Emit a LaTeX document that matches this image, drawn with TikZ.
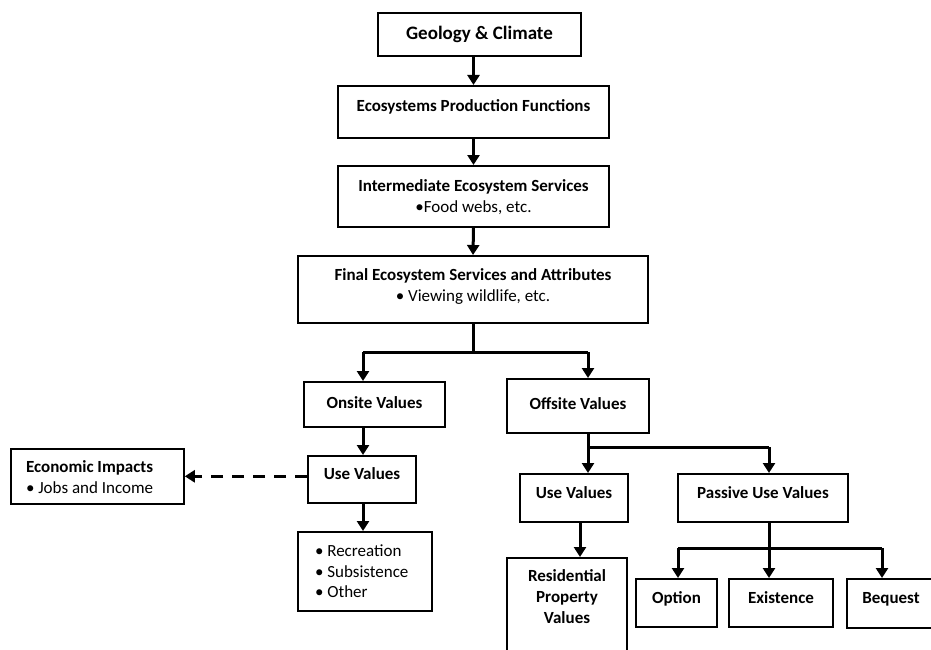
\documentclass[tikz,border=0pt]{standalone}
\usepackage{fontspec}
\setmainfont{Carlito}
\usetikzlibrary{arrows.meta}

\begin{document}
\begin{tikzpicture}[x=1pt, y=-1pt,
    box/.style={rectangle, draw, line width=1.6pt, inner sep=0pt, align=center, font=\fontsize{17}{21}\selectfont\bfseries},
    link/.style={line width=3pt},
    flow/.style={line width=3pt, -{Triangle[width=12pt, length=10pt]}}]

    \clip (0,0) rectangle (931,650);

    % Top chain of boxes
    \node (geo) [box, font=\fontsize{19}{22}\selectfont\bfseries, minimum width=203pt, minimum height=43pt, anchor=north] at (479.5,12) {Geology \& Climate};
    \node (eco) [box, minimum width=271pt, text height=26pt, text depth=26pt, anchor=north] at (473.5,85) {Ecosystems Production Functions};
    \node (inter) [box, minimum width=271pt, text height=47pt, text depth=14pt, anchor=north] at (473.5,165) {Intermediate Ecosystem Services\\{\mdseries •Food webs, etc.}};
    \node (final) [box, minimum width=350pt, text height=46pt, text depth=21pt, anchor=north] at (473,255) {Final Ecosystem Services and Attributes\\{\mdseries • Viewing wildlife, etc.}};
    \draw[flow] (eco.north |- geo.south) -- (eco.north);
    \draw[flow] (eco.south) -- (inter.north);
    \draw[flow] (inter.south) -- (final.north);

    % Onsite side
    \node (onsite) [box, minimum width=141pt, text height=27pt, text depth=18pt, anchor=north] at (374.5,381) {Onsite Values};
    \node (onuse) [box, minimum width=108pt, text height=24pt, text depth=23pt, anchor=north] at (362,455) {Use Values};
    \node (econ) [box, align=flush left, text width=143pt, inner xsep=15pt, text height=24pt, text depth=31pt, anchor=north] at (97.5,448) {Economic Impacts\\{\mdseries • Jobs and Income}};
    \node (uses) [box, align=flush left, font=\fontsize{17}{20.5}\selectfont, text width=100pt, inner xsep=17pt, text height=25pt, text depth=54pt, anchor=north] at (365,531) {• Recreation\\• Subsistence\\• Other};

    % Offsite side
    \node (offsite) [box, minimum width=142pt, text height=31pt, text depth=23pt, anchor=north] at (578,378) {Offsite Values};
    \node (offuse) [box, minimum width=108pt, text height=25pt, text depth=23pt, anchor=north] at (574,473) {Use Values};
    \node (passive) [box, minimum width=170pt, text height=25pt, text depth=23pt, anchor=north] at (763,473) {Passive Use Values};
    \node (resid) [box, minimum width=120pt, text height=66pt, text depth=100pt, anchor=north] at (567,557) {Residential\\Property\\Values};
    \node (option) [box, minimum width=81pt, text height=25pt, text depth=23pt, anchor=north] at (676.5,578) {Option};
    \node (exist) [box, minimum width=104pt, text height=25pt, text depth=23pt, anchor=north] at (781,578) {Existence};
    \node (bequest) [box, minimum width=88pt, text height=25pt, text depth=24pt, anchor=north] at (891,578) {Bequest};

    % Split below the final services
    \draw[link] (final.south) -- ++(0,30);
    \draw[link] (363,352) coordinate (onfork) -- (588,352) coordinate (offfork);
    \draw[flow] (onfork) -- (onfork |- onsite.north);
    \draw[flow] (offfork) -- (offfork |- offsite.north);

    % Onsite arrows
    \draw[flow] (onfork |- onsite.south) -- (onfork |- onuse.north);
    \draw[flow] (onfork |- onuse.south) -- (onfork |- uses.north);
    \draw[flow, dash pattern=on 12pt off 9pt] (econ.east -| onuse.west) -- (econ.east);

    % Offsite arrows
    \draw[link] (offfork |- offsite.south) -- (588,447) coordinate (usefork) -- (769,447) coordinate (passfork);
    \draw[flow] (usefork) -- (usefork |- offuse.north);
    \draw[flow] (passfork) -- (passfork |- passive.north);
    \draw[flow] ([xshift=6pt]offuse.south) -- ([xshift=6pt]offuse.south |- resid.north);

    % Passive use split
    \draw[link] (passfork |- passive.south) -- (769,548) coordinate (existfork);
    \draw[link] (678,548) coordinate (optfork) -- (882,548) coordinate (beqfork);
    \draw[flow] (optfork) -- (optfork |- option.north);
    \draw[flow] (existfork) -- (existfork |- exist.north);
    \draw[flow] (beqfork) -- (beqfork |- bequest.north);

\end{tikzpicture}
\end{document}
